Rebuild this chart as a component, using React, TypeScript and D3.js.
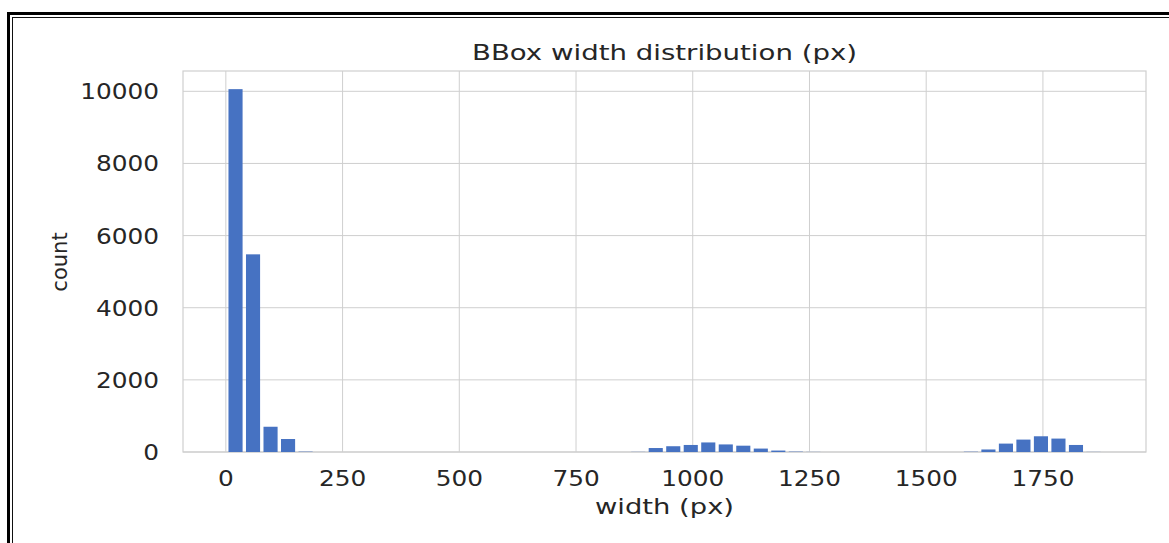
import React from "react";
import * as d3 from "d3";

// Histogram: 50 bins of width 37.5 px starting at 2 px
const binStart = 2;
const binWidth = 37.5;
const counts = [
  10060, 5480, 700, 360, 10, 0, 0, 0, 0, 0,
  0, 0, 0, 0, 0, 0, 0, 0, 0, 0,
  0, 0, 0, 4, 110, 160, 195, 265, 210, 175,
  95, 40, 10, 3, 0, 0, 0, 0, 0, 0,
  0, 0, 8, 70, 233, 344, 436, 372, 195, 3,
];
const xTicks = [0, 250, 500, 750, 1000, 1250, 1500, 1750];
const yTicks = [0, 2000, 4000, 6000, 8000, 10000];
const title = "BBox width distribution (px)";
const xLabel = "width (px)";
const yLabel = "count";

const W = 1169;
const H = 543;
const plot = { left: 183, right: 1146, top: 71, bottom: 452 };
const font = "'DejaVu Sans', sans-serif";
const textColor = "#262626";
const gridColor = "#cfcfcf";
const barColor = "#4672c2";
const sx = 1.18;

export default function App() {
  const bins = counts.map((c, i) => ({
    x0: binStart + i * binWidth,
    x1: binStart + (i + 1) * binWidth,
    c,
  }));
  const dMin = bins[0].x0;
  const dMax = bins[bins.length - 1].x1;
  const pad = (dMax - dMin) * 0.05;
  const x = d3.scaleLinear().domain([dMin - pad, dMax + pad]).range([plot.left, plot.right]);
  const yMax = (d3.max(counts) as number) * 1.05;
  const y = d3.scaleLinear().domain([0, yMax]).range([plot.bottom, plot.top]);
  const gap = 1.7;
  const cx = (plot.left + plot.right) / 2;

  return (
    <svg
      width={W}
      height={H}
      style={{ position: "absolute", left: 0, top: 0, background: "#fff" }}
    >
      <rect x={0} y={0} width={W} height={H} fill="#fff" />
      {/* frame */}
      <rect x={8.5} y={13.5} width={W + 20} height={H + 20} fill="none" stroke="#000" strokeWidth={3} />
      <rect x={12.5} y={17.5} width={W + 20} height={H + 20} fill="none" stroke="#111" strokeWidth={1} />

      {/* grid */}
      {xTicks.map((t) => (
        <line key={"gx" + t} x1={x(t)} x2={x(t)} y1={plot.top} y2={plot.bottom} stroke={gridColor} strokeWidth={1} />
      ))}
      {yTicks.map((t) => (
        <line key={"gy" + t} x1={plot.left} x2={plot.right} y1={y(t)} y2={y(t)} stroke={gridColor} strokeWidth={1} />
      ))}
      <rect
        x={plot.left}
        y={plot.top}
        width={plot.right - plot.left}
        height={plot.bottom - plot.top}
        fill="none"
        stroke={gridColor}
        strokeWidth={1.2}
      />

      {/* bars */}
      {bins
        .filter((b) => b.c > 0)
        .map((b, i) => (
          <rect
            key={i}
            x={x(b.x0) + gap}
            width={Math.max(0, x(b.x1) - x(b.x0) - 2 * gap)}
            y={y(b.c)}
            height={plot.bottom - y(b.c)}
            fill={barColor}
          />
        ))}

      {/* y tick labels */}
      {yTicks.map((t) => (
        <text
          key={"ly" + t}
          transform={`translate(${159},${y(t) + 8}) scale(${sx},1)`}
          textAnchor="end"
          fontFamily={font}
          fontSize={21}
          fill={textColor}
        >
          {t}
        </text>
      ))}
      {/* x tick labels */}
      {xTicks.map((t) => (
        <text
          key={"lx" + t}
          transform={`translate(${x(t)},${486}) scale(${sx},1)`}
          textAnchor="middle"
          fontFamily={font}
          fontSize={21}
          fill={textColor}
        >
          {t}
        </text>
      ))}

      <text
        x={cx}
        y={60}
        textAnchor="middle"
        fontFamily={font}
        fontSize={21}
        fill={textColor}
        textLength={385}
        lengthAdjust="spacingAndGlyphs"
      >
        {title}
      </text>
      <text
        x={cx}
        y={514}
        textAnchor="middle"
        fontFamily={font}
        fontSize={21}
        fill={textColor}
        textLength={139}
        lengthAdjust="spacingAndGlyphs"
      >
        {xLabel}
      </text>
      <text
        transform={`translate(${67},${262}) rotate(-90)`}
        textAnchor="middle"
        fontFamily={font}
        fontSize={21}
        fill={textColor}
      >
        {yLabel}
      </text>
    </svg>
  );
}
